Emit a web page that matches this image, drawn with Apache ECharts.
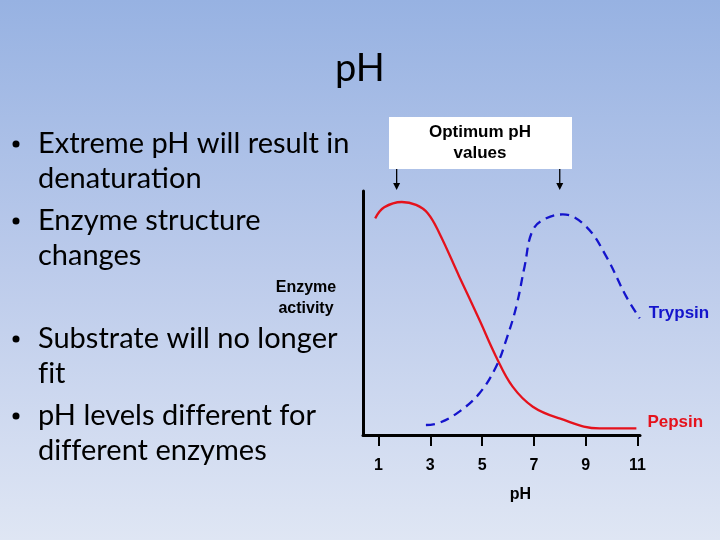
<!DOCTYPE html>
<html>
<head>
<meta charset="utf-8">
<script src="https://cdn.jsdelivr.net/npm/echarts@6.0.0/dist/echarts.min.js"></script>
<style>
    html, body { margin: 0; padding: 0; }
    #main { width: 720px; height: 540px; }
</style>
</head>
<body>
<div id="main"></div>
<script>
// pH values and enzyme activity
var pepsinPH = [0.87, 1.22, 1.90, 2.45, 2.90, 3.35, 4.12, 4.90, 5.54, 6.18, 6.96, 7.99, 9.54, 10.96];
var pepsinAct = [88.8, 93.3, 95.5, 94.3, 90.9, 82.7, 64.9, 47.1, 32.1, 19.8, 11.6, 6.8, 2.7, 2.7];
var trypsinPH = [2.83, 3.35, 4.12, 4.90, 5.54, 5.93, 6.32, 6.64, 6.96, 7.48, 8.12, 9.02, 9.80, 10.57, 11.09];
var trypsinAct = [4.1, 5.0, 9.6, 17.1, 28.0, 38.9, 52.6, 69.0, 84.0, 88.8, 90.4, 85.4, 73.1, 56.7, 47.8];
var phTicks = [1, 3, 5, 7, 9, 11];
var optimumPH = [1.7, 8.0]; // arrows from the box
// \u200C keeps Lato from joining "ti" / "fi" / "ff"
var bullets = [
    ['Extreme pH will result in', 'denatura\u200Ction'],
    ['Enzyme structure', 'changes'],
    ['Substrate will no longer', 'f\u200Cit'],
    ['pH levels dif\u200Cferent for', 'dif\u200Cferent enzymes']
];
var bulletTop = [144, 221, 339, 416];

function pairs(xs, ys) {
    var out = [];
    for (var i = 0; i < xs.length; i++) {
        out.push([xs[i], ys[i]]);
    }
    return out;
}

var myChart = echarts.init(document.getElementById('main'));

var textItems = [];
for (var i = 0; i < bullets.length; i++) {
    textItems.push({
        type: 'circle',
        shape: { cx: 16, cy: bulletTop[i], r: 3.5 },
        style: { fill: '#000' }
    });
    for (var j = 0; j < bullets[i].length; j++) {
        textItems.push({
            type: 'text',
            x: 38,
            y: bulletTop[i] + j * 35,
            style: {
                text: bullets[i][j],
                fill: '#000',
                font: '29px Lato',
                verticalAlign: 'middle'
            }
        });
    }
}

textItems.push({
    type: 'text',
    x: 306,
    y: 298.5,
    style: {
        text: 'Enzyme\nactivity',
        fill: '#000',
        font: 'bold 16px "Liberation Sans"',
        align: 'center',
        verticalAlign: 'middle',
        lineHeight: 21
    }
});
textItems.push({
    type: 'rect',
    shape: { x: 389, y: 117, width: 183, height: 52 },
    style: { fill: '#fff' }
});
textItems.push({
    type: 'text',
    x: 480,
    y: 142.5,
    style: {
        text: 'Optimum pH\nvalues',
        fill: '#000',
        font: 'bold 17px "Liberation Sans"',
        align: 'center',
        verticalAlign: 'middle',
        lineHeight: 21
    }
});

var option = {
    backgroundColor: {
        type: 'linear', x: 0, y: 0, x2: 0, y2: 1,
        colorStops: [
            { offset: 0, color: '#97b2e2' },
            { offset: 0.5, color: '#bccbeb' },
            { offset: 1, color: '#dfe6f4' }
        ]
    },
    title: {
        text: 'pH',
        left: 'center',
        top: 45,
        textStyle: { fontFamily: 'Lato', fontWeight: 'normal', fontSize: 38, color: '#000' }
    },
    grid: { left: 363, right: 80, top: 191, bottom: 105 },
    xAxis: {
        type: 'value',
        min: 0.4,
        max: 11.1,
        name: 'pH',
        nameLocation: 'middle',
        nameGap: 52,
        nameTextStyle: { fontFamily: 'Liberation Sans', fontWeight: 'bold', fontSize: 16, color: '#000', padding: [0, 0, 0, 38] },
        axisLine: { lineStyle: { color: '#000', width: 3 } },
        axisTick: { show: true, customValues: phTicks, length: 11, lineStyle: { color: '#000', width: 2 } },
        axisLabel: { customValues: phTicks, margin: 23, fontFamily: 'Liberation Sans', fontWeight: 'bold', fontSize: 16, color: '#000' },
        splitLine: { show: false }
    },
    yAxis: {
        type: 'value',
        min: 0,
        max: 100,
        axisLine: { show: true, lineStyle: { color: '#000', width: 3 } },
        axisTick: { show: false },
        axisLabel: { show: false },
        splitLine: { show: false }
    },
    series: [{
        name: 'Pepsin',
        type: 'line',
        data: pairs(pepsinPH, pepsinAct),
        smooth: 0.4,
        showSymbol: false,
        lineStyle: { color: '#e5121c', width: 2.3 },
        endLabel: {
            show: true,
            formatter: '{a}',
            distance: 11,
            offset: [0, -6],
            color: '#e5121c',
            fontFamily: 'Liberation Sans',
            fontWeight: 'bold',
            fontSize: 17
        }
    }, {
        name: 'Trypsin',
        type: 'line',
        data: pairs(trypsinPH, trypsinAct),
        smooth: 0.4,
        showSymbol: false,
        clip: false,
        lineStyle: { color: '#1414cc', width: 2.3, type: [9, 6] },
        endLabel: {
            show: true,
            formatter: '{a}',
            distance: 9,
            offset: [0, -5],
            color: '#1414cc',
            fontFamily: 'Liberation Sans',
            fontWeight: 'bold',
            fontSize: 17
        }
    }],
    graphic: textItems
};

myChart.setOption(option);

// arrows from the box down to the optimum pH of each enzyme
var arrows = [];
for (var k = 0; k < optimumPH.length; k++) {
    var px = myChart.convertToPixel({ gridIndex: 0 }, [optimumPH[k], 100])[0];
    arrows.push({
        type: 'line',
        shape: { x1: px, y1: 169, x2: px, y2: 184 },
        style: { stroke: '#000', lineWidth: 1.3 }
    });
    arrows.push({
        type: 'polygon',
        shape: { points: [[px - 3.5, 183], [px + 3.5, 183], [px, 190]] },
        style: { fill: '#000' }
    });
}
myChart.setOption({ graphic: textItems.concat(arrows) });
</script>
</body>
</html>
